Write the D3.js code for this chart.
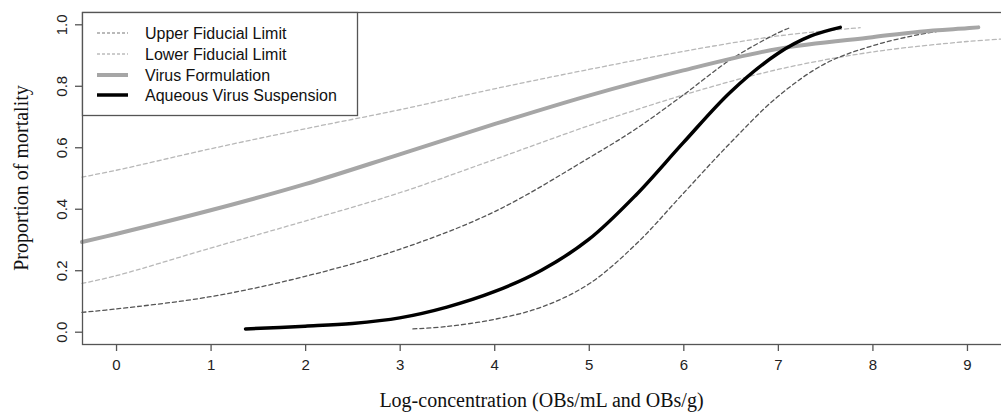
<!DOCTYPE html>
<html><head><meta charset="utf-8">
<script src="https://cdn.jsdelivr.net/npm/d3@7"></script>
<style>body{margin:0;background:#fff}svg{display:block}</style>
</head><body>
<svg id="chart" width="1001" height="414"></svg>
<script>
// ---- data ----
const xTicks = [0,1,2,3,4,5,6,7,8,9];
const yTicks = [0.0,0.2,0.4,0.6,0.8,1.0];
const yTickLabels = ["0.0","0.2","0.4","0.6","0.8","1.0"];
const legendLabels = ["Upper Fiducial Limit","Lower Fiducial Limit","Virus Formulation","Aqueous Virus Suspension"];

const formX = [-0.36,0,1,2,3,4,5,6,7,8,8.5,9,9.12];
const formY = [0.292,0.318,0.395,0.48,0.577,0.675,0.768,0.85,0.92,0.958,0.976,0.987,0.99];

const formUpX = [-0.36,0,1,2,3,4,5,6,7,7.87];
const formUpY = [0.503,0.525,0.595,0.66,0.722,0.79,0.853,0.912,0.962,0.989];

const formLoX = [-0.36,0,1,2,3,4,5,6,7,8,9,9.36];
const formLoY = [0.157,0.182,0.272,0.36,0.452,0.56,0.67,0.77,0.853,0.91,0.944,0.952];

const aqX = [1.37,2,2.5,3,3.5,4,4.5,5,5.5,6,6.5,7,7.35,7.66];
const aqY = [0.009,0.018,0.027,0.045,0.08,0.13,0.2,0.30,0.445,0.615,0.78,0.905,0.962,0.99];

const aqUpX = [-0.36,0,1,2,3,4,5,5.5,6,6.5,7,7.13];
const aqUpY = [0.063,0.074,0.114,0.18,0.268,0.39,0.565,0.66,0.77,0.885,0.972,0.989];

const aqLoX = [3.14,3.5,4,4.5,5,5.5,6,6.5,7,7.5,8,8.5,8.96];
const aqLoY = [0.009,0.017,0.04,0.08,0.155,0.285,0.45,0.615,0.765,0.872,0.93,0.967,0.989];

// ---- drawing ----
const svg = d3.select("#chart");
const L = 82, R = 1001, T = 12, B = 344;
const x = d3.scaleLinear().domain([-0.36, 9.36]).range([L, R]);
const y = d3.scaleLinear().domain([-0.04, 1.04]).range([B, T]);

const zip = (xs, ys) => xs.map((v,i)=>[v, ys[i]]);
const line = d3.line().x(d=>x(d[0])).y(d=>y(d[1])).curve(d3.curveCatmullRom.alpha(0.5));

const plot = svg.append("g");
const series = [
  {d: zip(formUpX, formUpY), stroke:"#b8b8b8", w:1.3, dash:"4,3"},
  {d: zip(formLoX, formLoY), stroke:"#b8b8b8", w:1.3, dash:"4,3"},
  {d: zip(aqUpX, aqUpY), stroke:"#555", w:1.3, dash:"4,3"},
  {d: zip(aqLoX, aqLoY), stroke:"#555", w:1.3, dash:"4,3"},
  {d: zip(formX, formY), stroke:"#a6a6a6", w:4, dash:null},
  {d: zip(aqX, aqY), stroke:"#000", w:3.5, dash:null}
];
series.forEach(s=>{
  plot.append("path").attr("d", line(s.d)).attr("fill","none")
    .attr("stroke", s.stroke).attr("stroke-width", s.w)
    .attr("stroke-dasharray", s.dash).attr("stroke-linecap","round");
});

// frame
svg.append("rect").attr("x",L+0.5).attr("y",T+0.5).attr("width",R-L+5).attr("height",B-T)
  .attr("fill","none").attr("stroke","#555").attr("stroke-width",1.3);

// x axis
const xa = svg.append("g").attr("transform",`translate(0,${B})`)
  .call(d3.axisBottom(x).tickValues(xTicks).tickFormat(d3.format("d")).tickSize(7).tickPadding(8));
xa.select(".domain").remove();
xa.selectAll("line").attr("stroke","#555").attr("stroke-width",1.3);
xa.selectAll("text").attr("font-family","Liberation Sans, Arial, sans-serif").attr("font-size",15).attr("fill","#222");

// y axis
const ya = svg.append("g").attr("transform",`translate(${L},0)`)
  .call(d3.axisLeft(y).tickValues(yTicks).tickFormat((d,i)=>yTickLabels[i]).tickSize(7));
ya.select(".domain").remove();
ya.selectAll("line").attr("stroke","#555").attr("stroke-width",1.3);
ya.selectAll("text")
  .attr("font-family","Liberation Sans, Arial, sans-serif").attr("font-size",15).attr("fill","#222")
  .attr("x",null).attr("dy",null)
  .attr("text-anchor","middle")
  .attr("transform", d=>`translate(-15,0) rotate(-90)`)
  .attr("y",0);

// axis titles
svg.append("text").attr("x",(L+R)/2).attr("y",407).attr("text-anchor","middle")
  .attr("font-family","Liberation Serif, Times New Roman, serif").attr("font-size",20).attr("fill","#111")
  .text("Log-concentration (OBs/mL and OBs/g)");
svg.append("text").attr("transform",`translate(28,${(T+B)/2}) rotate(-90)`).attr("text-anchor","middle")
  .attr("font-family","Liberation Serif, Times New Roman, serif").attr("font-size",20).attr("fill","#111")
  .text("Proportion of mortality");

// legend
const lg = svg.append("g");
lg.append("rect").attr("x",L+0.5).attr("y",T+0.5).attr("width",357-L).attr("height",115-T)
  .attr("fill","#fff").attr("stroke","#555").attr("stroke-width",1.3);
const lgStyle = [
  {stroke:"#777", w:1.2, dash:"3,2"},
  {stroke:"#999", w:1.2, dash:"3,2"},
  {stroke:"#a6a6a6", w:4, dash:null},
  {stroke:"#000", w:3.5, dash:null}
];
const rowY = [33,54,75,95];
legendLabels.forEach((lab,i)=>{
  lg.append("line").attr("x1",97).attr("x2",128).attr("y1",rowY[i]).attr("y2",rowY[i])
    .attr("stroke",lgStyle[i].stroke).attr("stroke-width",lgStyle[i].w).attr("stroke-dasharray",lgStyle[i].dash);
  lg.append("text").attr("x",145).attr("y",rowY[i]).attr("dy","0.36em")
    .attr("font-family","Liberation Sans, Arial, sans-serif").attr("font-size",16).attr("fill","#111")
    .text(lab);
});
</script>
</body></html>
